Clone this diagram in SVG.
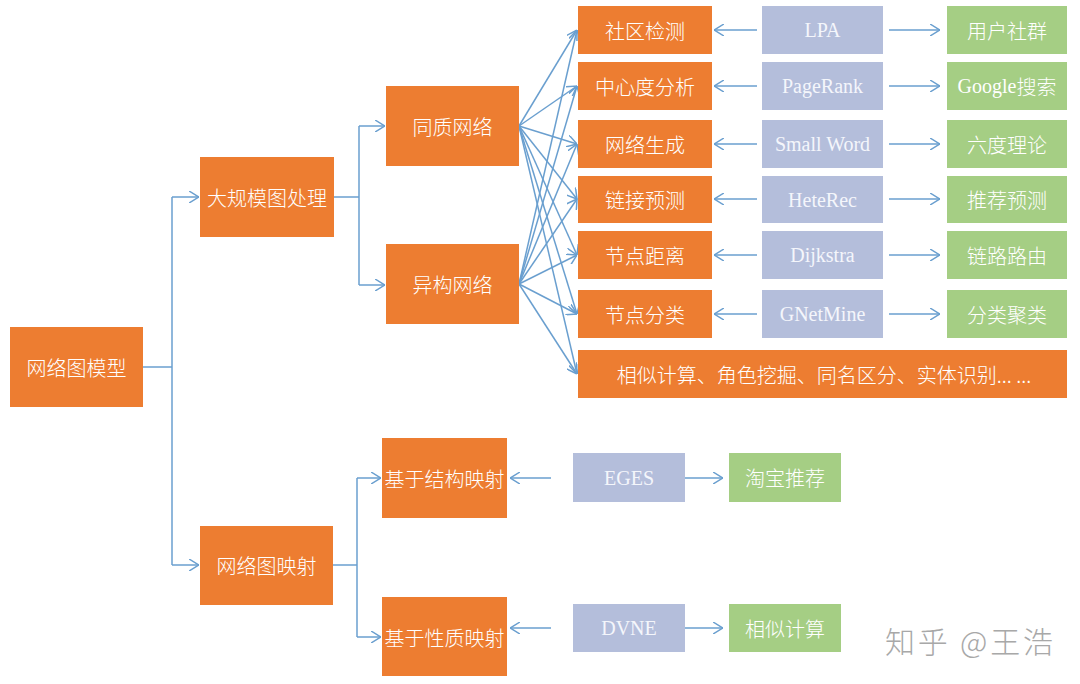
<svg xmlns="http://www.w3.org/2000/svg" width="1080" height="684" viewBox="0 0 1080 684">
<style>
.o{fill:#ED7D31}
.b{fill:#B4BEDB}
.g{fill:#A5CE84}
.t{font-family:"Noto Sans CJK SC","Liberation Sans",sans-serif;font-size:20px;font-weight:300;fill:#FFFFFF;text-anchor:middle;dominant-baseline:central}
.s{font-family:"Liberation Serif","Noto Sans CJK SC",serif;font-size:20px;fill:#F4F6FB;text-anchor:middle;dominant-baseline:central}
.c{fill:none;stroke:#6A9FCF;stroke-width:1.5}
</style>
<defs>
<marker id="ah" viewBox="0 0 10 12" refX="10" refY="6" markerWidth="10" markerHeight="12" markerUnits="userSpaceOnUse" orient="auto">
<path d="M0,0 L10,6 L0,12" fill="none" stroke="#6A9FCF" stroke-width="1.5"/>
</marker>
</defs>
<rect width="1080" height="684" fill="#FFFFFF"/>
<g id="connectors" class="c" marker-end="url(#ah)">
<path d="M143,367 H172" marker-end="none"/>
<path d="M172,197 V565" marker-end="none"/>
<path d="M172,197 H199"/>
<path d="M172,565 H199"/>
<path d="M334,197 H359" marker-end="none"/>
<path d="M359,126 V285" marker-end="none"/>
<path d="M359,126 H385"/>
<path d="M359,285 H385"/>
<path d="M519,126 L577,30"/>
<path d="M519,126 L577,86"/>
<path d="M519,126 L577,144"/>
<path d="M519,126 L577,199"/>
<path d="M519,126 L577,255"/>
<path d="M519,126 L577,314"/>
<path d="M519,126 L577,374"/>
<path d="M519,284 L577,30"/>
<path d="M519,284 L577,86"/>
<path d="M519,284 L577,144"/>
<path d="M519,284 L577,199"/>
<path d="M519,284 L577,255"/>
<path d="M519,284 L577,314"/>
<path d="M519,284 L577,374"/>
<path d="M757,30 H714"/>
<path d="M757,86 H714"/>
<path d="M757,144 H714"/>
<path d="M757,199 H714"/>
<path d="M757,255 H714"/>
<path d="M757,314 H714"/>
<path d="M889,30 H940"/>
<path d="M889,86 H940"/>
<path d="M889,144 H940"/>
<path d="M889,199 H940"/>
<path d="M889,255 H940"/>
<path d="M889,314 H940"/>
<path d="M333,565 H357" marker-end="none"/>
<path d="M357,478 V637" marker-end="none"/>
<path d="M357,478 H381"/>
<path d="M357,637 H381"/>
<path d="M551,478 H510"/>
<path d="M551,628 H510"/>
<path d="M675,478 H723"/>
<path d="M675,628 H723"/>
</g>
<g id="n-root"><rect class="o" x="10" y="327" width="133" height="80"/><text class="t" x="76.5" y="367">网络图模型</text></g>
<g id="n-large"><rect class="o" x="200" y="157" width="134" height="80"/><text class="t" x="267" y="197">大规模图处理</text></g>
<g id="n-homo"><rect class="o" x="386" y="86" width="133" height="80"/><text class="t" x="452.5" y="126">同质网络</text></g>
<g id="n-hetero"><rect class="o" x="386" y="244" width="133" height="80"/><text class="t" x="452.5" y="284">异构网络</text></g>
<g id="n-comm"><rect class="o" x="578" y="6" width="134" height="48"/><text class="t" x="645" y="30">社区检测</text></g>
<g id="n-cent"><rect class="o" x="578" y="62" width="134" height="48"/><text class="t" x="645" y="86">中心度分析</text></g>
<g id="n-gen"><rect class="o" x="578" y="120" width="134" height="48"/><text class="t" x="645" y="144">网络生成</text></g>
<g id="n-link"><rect class="o" x="578" y="176" width="134" height="47"/><text class="t" x="645" y="199.5">链接预测</text></g>
<g id="n-dist"><rect class="o" x="578" y="231" width="134" height="48"/><text class="t" x="645" y="255">节点距离</text></g>
<g id="n-cls"><rect class="o" x="578" y="290" width="134" height="48"/><text class="t" x="645" y="314">节点分类</text></g>
<g id="n-other"><rect class="o" x="578" y="350" width="489" height="48"/><text class="t" x="824" y="374">相似计算、角色挖掘、同名区分、实体识别... ...</text></g>
<g id="n-lpa"><rect class="b" x="762" y="6" width="121" height="48"/><text class="s" x="822.5" y="30">LPA</text></g>
<g id="n-pr"><rect class="b" x="762" y="62" width="121" height="48"/><text class="s" x="822.5" y="86">PageRank</text></g>
<g id="n-sw"><rect class="b" x="762" y="120" width="121" height="48"/><text class="s" x="822.5" y="144">Small Word</text></g>
<g id="n-hr"><rect class="b" x="762" y="176" width="121" height="47"/><text class="s" x="822.5" y="199.5">HeteRec</text></g>
<g id="n-dij"><rect class="b" x="762" y="231" width="121" height="48"/><text class="s" x="822.5" y="255">Dijkstra</text></g>
<g id="n-gnm"><rect class="b" x="762" y="290" width="121" height="48"/><text class="s" x="822.5" y="314">GNetMine</text></g>
<g id="n-user"><rect class="g" x="947" y="6" width="120" height="48"/><text class="t" x="1007" y="30">用户社群</text></g>
<g id="n-google"><rect class="g" x="947" y="62" width="120" height="48"/><text class="t" x="1007" y="86"><tspan font-family="Liberation Serif">Google</tspan>搜索</text></g>
<g id="n-six"><rect class="g" x="947" y="120" width="120" height="48"/><text class="t" x="1007" y="144">六度理论</text></g>
<g id="n-rec"><rect class="g" x="947" y="176" width="120" height="47"/><text class="t" x="1007" y="199.5">推荐预测</text></g>
<g id="n-route"><rect class="g" x="947" y="231" width="120" height="48"/><text class="t" x="1007" y="255">链路路由</text></g>
<g id="n-clus"><rect class="g" x="947" y="290" width="120" height="48"/><text class="t" x="1007" y="314">分类聚类</text></g>
<g id="n-map"><rect class="o" x="200" y="526" width="133" height="79"/><text class="t" x="266.5" y="565.5">网络图映射</text></g>
<g id="n-struct"><rect class="o" x="382" y="438" width="125" height="80"/><text class="t" x="444.5" y="478">基于结构映射</text></g>
<g id="n-prop"><rect class="o" x="382" y="597" width="125" height="79"/><text class="t" x="444.5" y="637">基于性质映射</text></g>
<g id="n-eges"><rect class="b" x="573" y="453" width="112" height="49"/><text class="s" x="629" y="477.5">EGES</text></g>
<g id="n-dvne"><rect class="b" x="573" y="604" width="112" height="48"/><text class="s" x="629" y="628">DVNE</text></g>
<g id="n-taobao"><rect class="g" x="729" y="453" width="112" height="49"/><text class="t" x="785" y="477.5">淘宝推荐</text></g>
<g id="n-sim"><rect class="g" x="729" y="604" width="112" height="48"/><text class="t" x="785" y="628">相似计算</text></g>
<text x="885" y="640" font-family="Noto Sans CJK SC, sans-serif" font-size="30" font-weight="300" fill="#A8A8A8" dominant-baseline="central" textLength="168" lengthAdjust="spacing">知乎 @王浩</text>
</svg>
